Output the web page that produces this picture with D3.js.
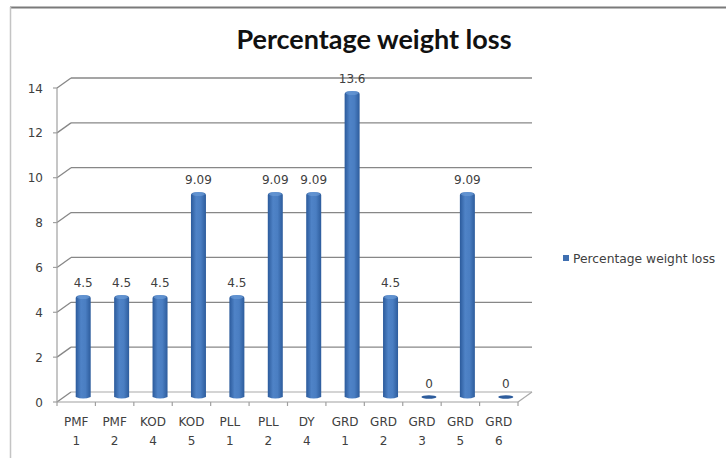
<!DOCTYPE html>
<html>
<head>
<meta charset="utf-8">
<script src="https://cdn.jsdelivr.net/npm/d3@7"></script>
<style>
  html, body { margin: 0; padding: 0; background: #fff; }
  svg { display: block; }
</style>
</head>
<body>
<svg id="chart" width="726" height="458"></svg>
<script>
// Sample codes (two-line labels) and percentage weight loss
const categories = ["PMF 1", "PMF 2", "KOD 4", "KOD 5", "PLL 1", "PLL 2", "DY 4", "GRD 1", "GRD 2", "GRD 3", "GRD 5", "GRD 6"];
const values = [4.5, 4.5, 4.5, 9.09, 4.5, 9.09, 9.09, 13.6, 4.5, 0, 9.09, 0];
const valueLabels = ["4.5", "4.5", "4.5", "9.09", "4.5", "9.09", "9.09", "13.6", "4.5", "0", "9.09", "0"];
const yTicks = [0, 2, 4, 6, 8, 10, 12, 14];
const seriesName = "Percentage weight loss";

(function () {
const svg = d3.select("#chart");
const font = "'DejaVu Sans', 'Open Sans', sans-serif";
const labelSize = 12;
const textColor = "#404040";
const gridColor = "#878787";

// Front plane of the 3-D plot and depth offset of the back wall
const plotLeft = 57, plotRight = 518, plotBottom = 402, plotTop = 88;
const depthX = 14, depthY = -10;
const midX = depthX / 2, midY = depthY / 2;

const x = d3.scaleBand().domain(categories).range([plotLeft, plotRight]).paddingInner(0).paddingOuter(0);
const y = d3.scaleLinear().domain([0, 14]).range([plotBottom, plotTop]);

// Chart area frame
svg.append("line").attr("x1", 10).attr("x2", 726).attr("y1", 7.5).attr("y2", 7.5)
  .attr("stroke", "#7a7a7a").attr("stroke-width", 2);
svg.append("line").attr("x1", 10.5).attr("x2", 10.5).attr("y1", 7).attr("y2", 458)
  .attr("stroke", "#c4c4c4").attr("stroke-width", 1.5);

// Title
svg.append("text")
  .attr("x", 374).attr("y", 49)
  .attr("text-anchor", "middle")
  .attr("font-family", "Lato, 'Open Sans', sans-serif")
  .attr("font-weight", "bold")
  .attr("font-size", 27)
  .attr("fill", "#111")
  .text("Percentage weight loss");

// Gridlines on the back wall plus the connecting side-wall segments
const grid = svg.append("g").attr("stroke", gridColor).attr("stroke-width", 1.3).attr("fill", "none");
yTicks.forEach(t => {
  const yy = y(t);
  if (t > 0) {
    grid.append("line")
      .attr("x1", plotLeft + depthX).attr("x2", plotRight + depthX)
      .attr("y1", yy + depthY).attr("y2", yy + depthY);
  }
  grid.append("line")
    .attr("x1", plotLeft).attr("x2", plotLeft + depthX)
    .attr("y1", yy).attr("y2", yy + depthY);
});

// Floor: back edge and right side
const floor = svg.append("g").attr("stroke", "#a9a9a9").attr("stroke-width", 1.2).attr("fill", "none");
floor.append("line").attr("x1", plotLeft + depthX).attr("x2", plotRight + depthX)
  .attr("y1", y(0) + depthY).attr("y2", y(0) + depthY);
floor.append("line").attr("x1", plotRight).attr("x2", plotRight + depthX)
  .attr("y1", y(0)).attr("y2", y(0) + depthY);

// Bar gradient to give the columns a rounded look
const defs = svg.append("defs");
const grad = defs.append("linearGradient").attr("id", "barGrad")
  .attr("x1", "0%").attr("x2", "100%").attr("y1", "0%").attr("y2", "0%");
grad.append("stop").attr("offset", "0%").attr("stop-color", "#2b5a9b");
grad.append("stop").attr("offset", "35%").attr("stop-color", "#4f83c7");
grad.append("stop").attr("offset", "65%").attr("stop-color", "#4a7ec2");
grad.append("stop").attr("offset", "100%").attr("stop-color", "#2d5c9c");

const barW = 15;
const bars = svg.append("g");
categories.forEach((c, i) => {
  const v = values[i];
  const cx = x(c) + x.bandwidth() / 2 + midX;
  const yTop = y(v) + midY;
  const yBase = y(0) + midY;
  if (v > 0) {
    bars.append("path")
      .attr("d", `M${cx - barW / 2},${yBase} L${cx - barW / 2},${yTop + 2} Q${cx - barW / 2},${yTop - 1} ${cx},${yTop - 1} Q${cx + barW / 2},${yTop - 1} ${cx + barW / 2},${yTop + 2} L${cx + barW / 2},${yBase} Q${cx},${yBase + 3} ${cx - barW / 2},${yBase} Z`)
      .attr("fill", "url(#barGrad)");
    bars.append("ellipse")
      .attr("cx", cx).attr("cy", yTop + 1).attr("rx", barW / 2 - 1).attr("ry", 2)
      .attr("fill", "#6a9ad6").attr("opacity", 0.7);
  } else {
    bars.append("ellipse")
      .attr("cx", cx).attr("cy", yBase).attr("rx", barW / 2).attr("ry", 1.8)
      .attr("fill", "#2d5c9c");
  }
  bars.append("text")
    .attr("x", cx).attr("y", yTop - 9)
    .attr("text-anchor", "middle")
    .attr("font-family", font).attr("font-size", labelSize)
    .attr("fill", textColor)
    .text(valueLabels[i]);
});

// Front floor edge (x axis) with category tick marks
const xAxis = svg.append("g").attr("stroke", "#a0a0a0").attr("stroke-width", 1.2);
xAxis.append("line").attr("x1", plotLeft).attr("x2", plotRight).attr("y1", y(0)).attr("y2", y(0));
d3.range(categories.length + 1).forEach(k => {
  const xx = plotLeft + k * x.bandwidth();
  xAxis.append("line").attr("x1", xx).attr("x2", xx).attr("y1", y(0)).attr("y2", y(0) + 4);
});

// Category labels on two lines
categories.forEach(c => {
  const parts = c.split(" ");
  const t = svg.append("text")
    .attr("text-anchor", "middle")
    .attr("font-family", font).attr("font-size", labelSize)
    .attr("fill", textColor);
  t.append("tspan").attr("x", x(c) + x.bandwidth() / 2).attr("y", 426).text(parts[0]);
  t.append("tspan").attr("x", x(c) + x.bandwidth() / 2).attr("y", 445).text(parts[1]);
});

// Value axis
const yAxis = svg.append("g").attr("stroke", "#a0a0a0").attr("stroke-width", 1.2);
yAxis.append("line").attr("x1", plotLeft).attr("x2", plotLeft).attr("y1", plotTop).attr("y2", plotBottom);
yTicks.forEach(t => {
  yAxis.append("line").attr("x1", plotLeft - 4).attr("x2", plotLeft).attr("y1", y(t)).attr("y2", y(t));
});
svg.append("g").selectAll("text").data(yTicks).join("text")
  .attr("x", 43).attr("y", d => y(d) + 4.5)
  .attr("text-anchor", "end")
  .attr("font-family", font).attr("font-size", labelSize)
  .attr("fill", textColor)
  .text(d => d);

// Legend
svg.append("rect").attr("x", 563).attr("y", 255).attr("width", 6).attr("height", 6).attr("fill", "#3f6fb0");
svg.append("text")
  .attr("x", 573).attr("y", 262.5)
  .attr("font-family", font).attr("font-size", 12.3)
  .attr("fill", textColor)
  .text(seriesName);
})();
</script>
</body>
</html>
